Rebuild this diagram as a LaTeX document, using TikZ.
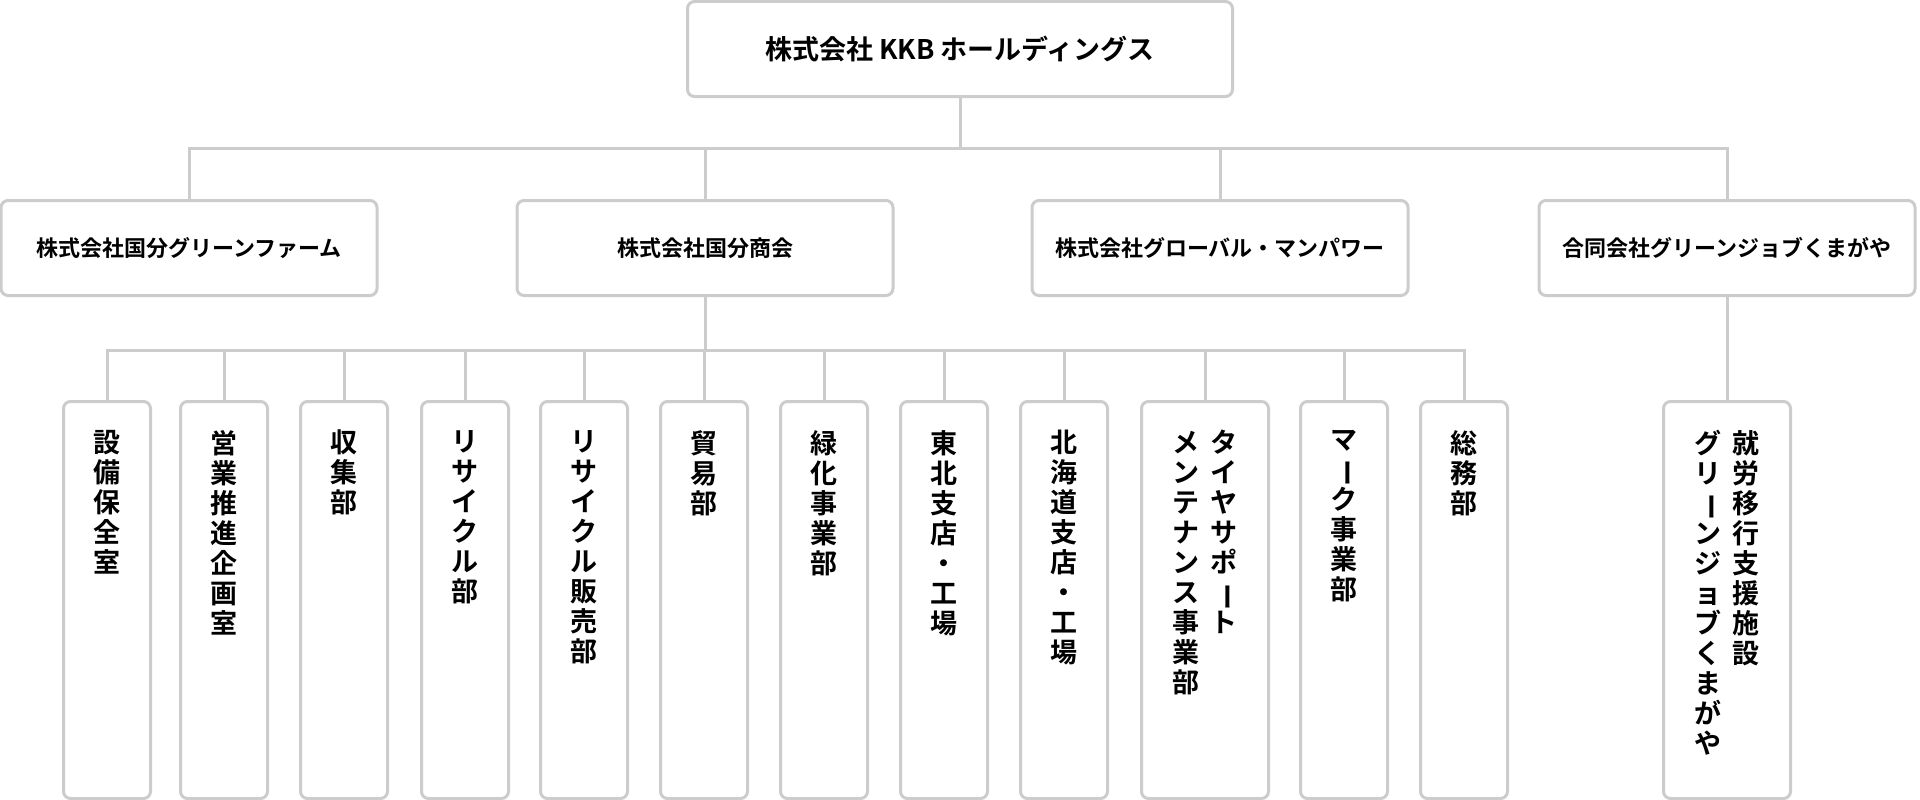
\documentclass[tikz,border=0pt]{standalone}
\usepackage{fontspec}
\setmainfont{Noto Sans CJK JP}[BoldFont={* Bold}]
\usepackage{graphicx}
\usepackage{tikz}
\makeatletter
\def\chouon{ー}
\newcommand\vstack[1]{\vtop{\baselineskip=30pt
  \@tfor\vc:=#1\do{\hbox to 1.05em{\hss\ifx\vc\chouon\rotatebox[origin=c]{-90}{ー}\else\vc\fi\hss}}}}
\makeatother
\tikzset{
  box/.style = {draw=black!20, line width=3pt, rounded corners=7pt, fill=white,
    font=\bfseries},% common
  topbox/.style = {box, minimum width=545pt, minimum height=95pt, font=\bfseries\fontsize{27}{30}\selectfont},
  cobox/.style = {box, minimum width=376pt, minimum height=95pt, font=\bfseries\fontsize{22}{25}\selectfont},
  dept/.style = {box, minimum width=87pt, minimum height=397pt, anchor=north},
  wdept/.style = {dept, minimum width=127pt},
  vlabel/.style = {anchor=north, inner sep=0pt, font=\bfseries\fontsize{27}{30}\selectfont},
  wire/.style = {draw=black!20, line width=3pt}
}
\begin{document}
\begin{tikzpicture}[x=1pt,y=-1pt]
\useasboundingbox (0,0) rectangle (1920,800);
\node [topbox] (top) at (960,49) {株式会社 KKB ホールディングス};
\node [cobox] (c1) at (189,248) {株式会社国分グリーンファーム};
\node [cobox] (c2) at (705,248) {株式会社国分商会};
\node [cobox] (c3) at (1220,248) {株式会社グローバル・マンパワー};
\node [cobox] (c4) at (1727,248) {合同会社グリーンジョブくまがや};
% departments
\foreach \i/\x in {1/107,2/224,3/344,4/465,5/584,6/704,7/824,8/944,9/1064,11/1344,12/1464}
  \node [dept] (d\i) at (\x,400) {};
\node [wdept] (d10) at (1205,400) {};
\node [wdept] (d13) at (1727,400) {};
\node [vlabel] (t1) at (d1.north |- 0,430) {\vstack{設備保全室}};
\node [vlabel] (t2) at (d2.north |- 0,430) {\vstack{営業推進企画室}};
\node [vlabel] (t3) at (d3.north |- 0,430) {\vstack{収集部}};
\node [vlabel] (t4) at (d4.north |- 0,430) {\vstack{リサイクル部}};
\node [vlabel] (t5) at (d5.north |- 0,430) {\vstack{リサイクル販売部}};
\node [vlabel] (t6) at (d6.north |- 0,430) {\vstack{貿易部}};
\node [vlabel] (t7) at (d7.north |- 0,430) {\vstack{緑化事業部}};
\node [vlabel] (t8) at (d8.north |- 0,430) {\vstack{東北支店・工場}};
\node [vlabel] (t9) at (d9.north |- 0,430) {\vstack{北海道支店・工場}};
\node [vlabel] (t10) at (d10.north |- 0,430) {\vstack{メンテナンス事業部}\kern10pt\vstack{タイヤサポート}};
\node [vlabel] (t11) at (d11.north |- 0,430) {\vstack{マーク事業部}};
\node [vlabel] (t12) at (d12.north |- 0,430) {\vstack{総務部}};
\node [vlabel] (t13) at (d13.north |- 0,430) {\vstack{グリーンジョブくまがや}\kern10pt\vstack{就労移行支援施設}};
% connectors
\coordinate (j1) at (960,148);
\coordinate (j2) at (705,350);
\draw [wire] (top.south) -- (j1);
\foreach \i in {1,...,4}
  \draw [wire] (c\i.north) |- (j1);
\draw [wire] (c2.south) -- (j2);
\foreach \i in {1,...,12}
  \draw [wire] (d\i.north) |- (j2);
\draw [wire] (c4.south) -- (d13.north);
\end{tikzpicture}
\end{document}
